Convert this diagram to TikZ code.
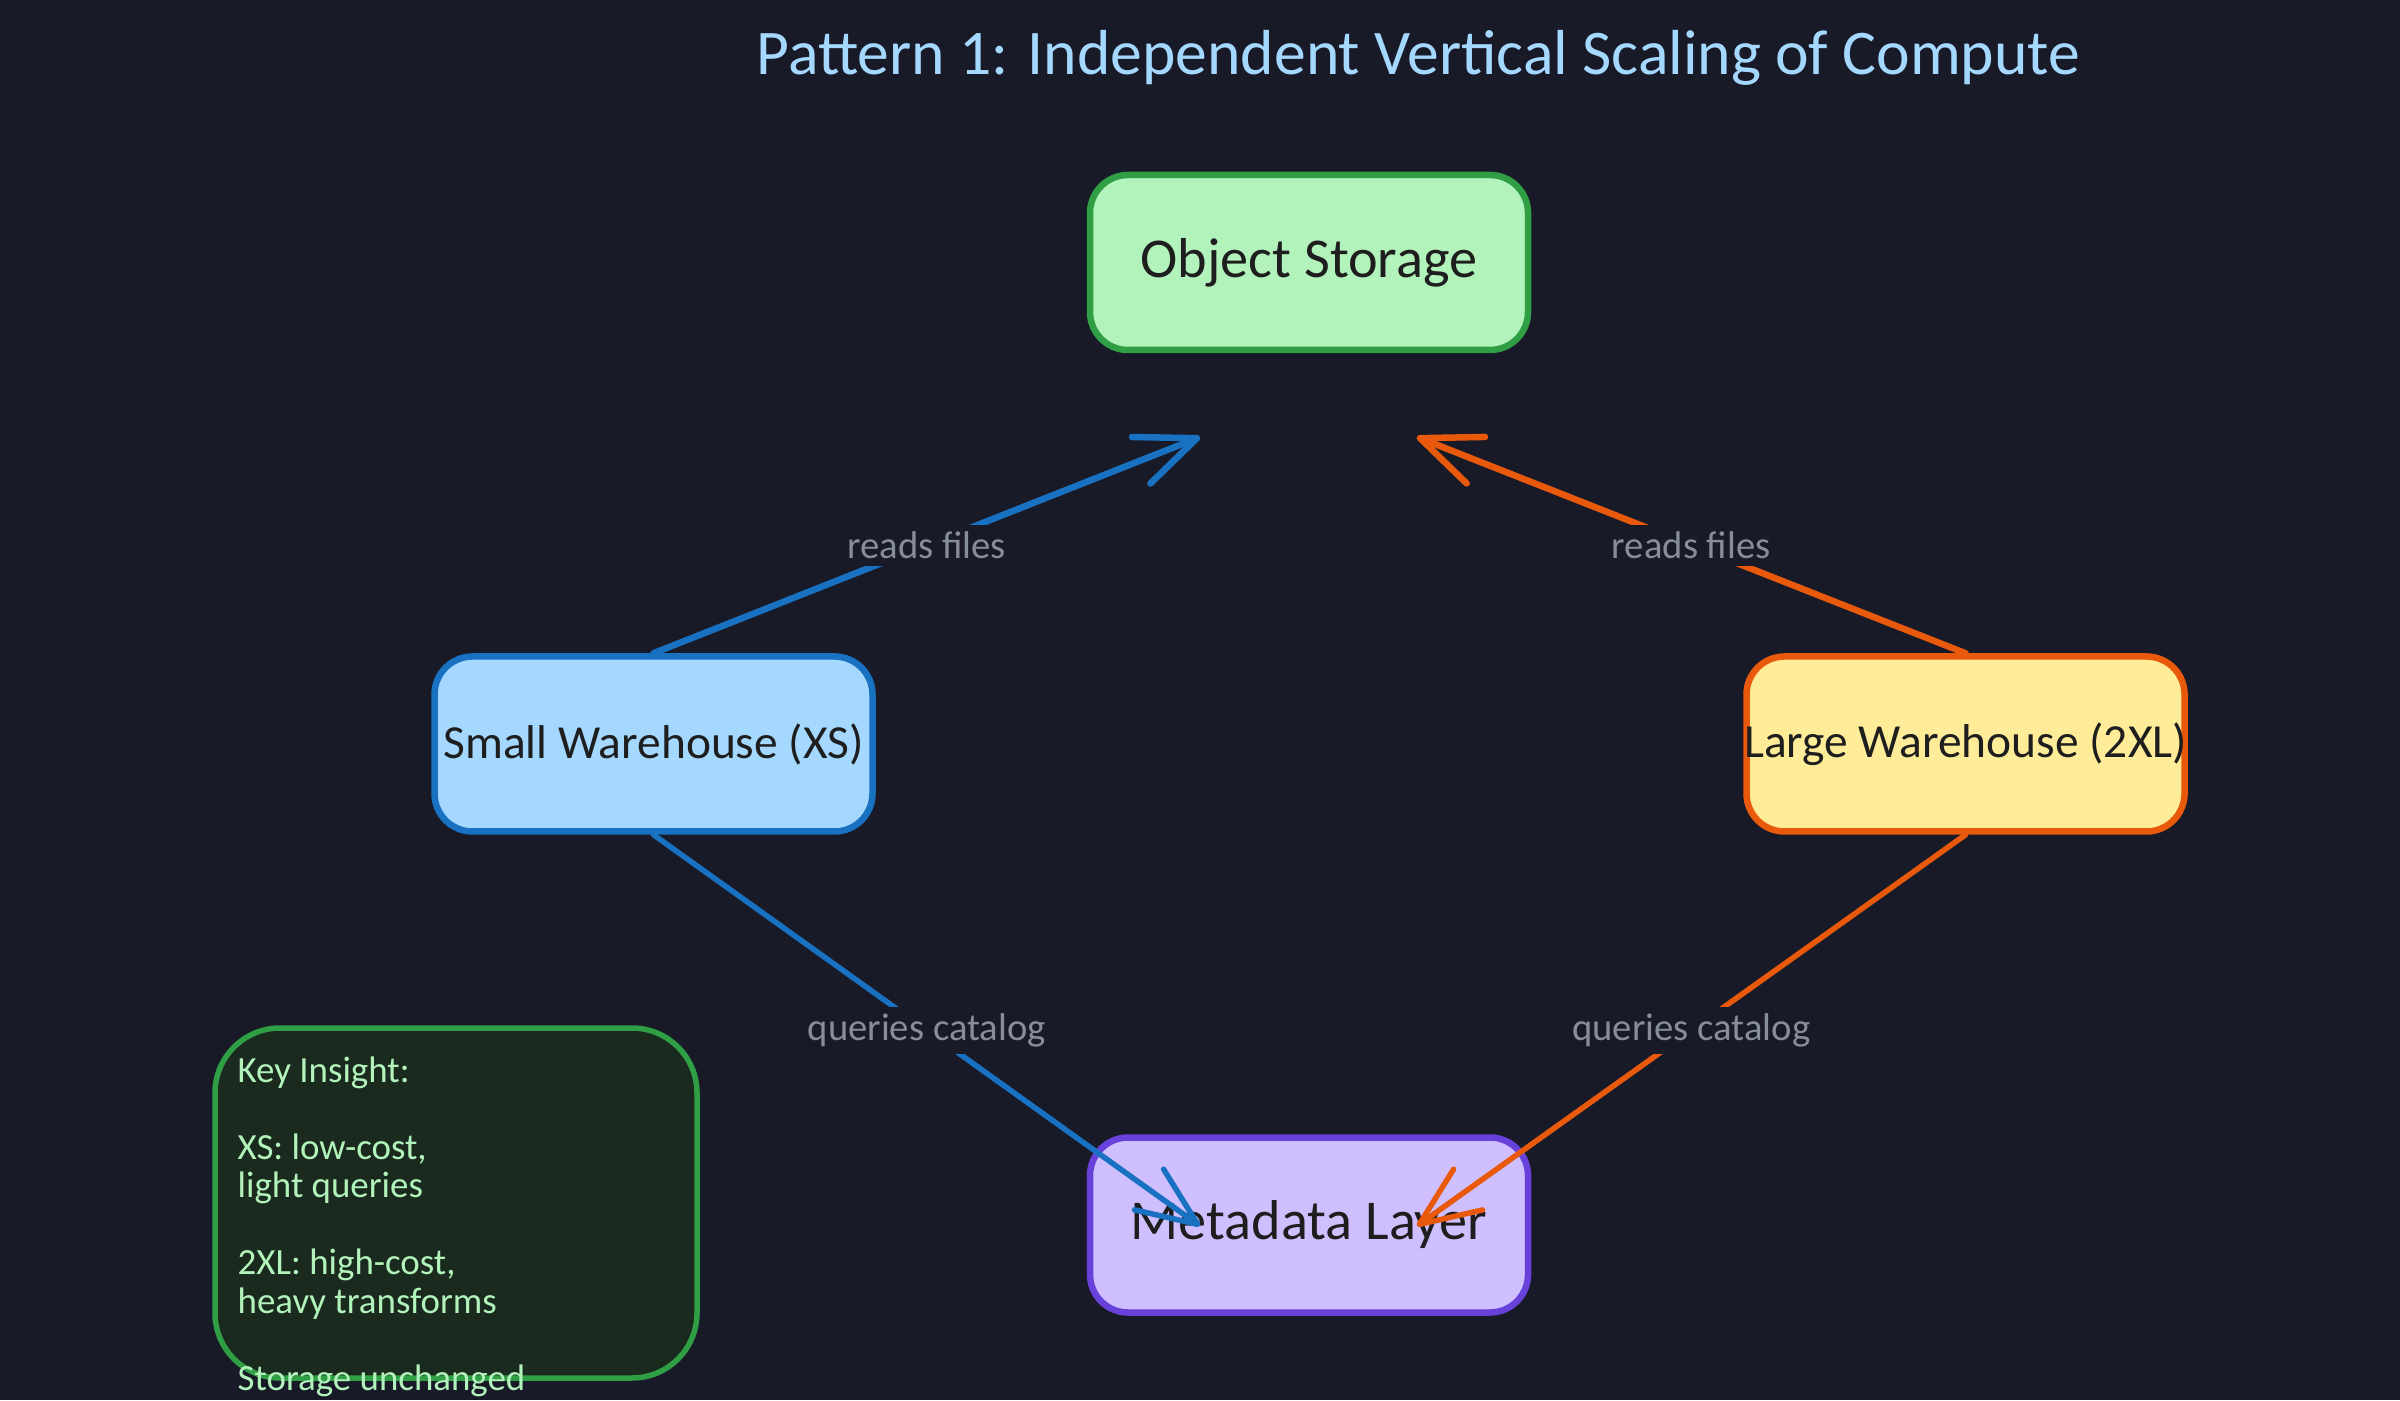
\documentclass[tikz,border=0pt]{standalone}
\usepackage{fontspec}
\setmainfont{Carlito}
\usetikzlibrary{positioning}
\usetikzlibrary{arrows.meta}
\definecolor{bgdark}{HTML}{181A28}
\definecolor{titleblue}{HTML}{A5D8FF}
\definecolor{inkdark}{HTML}{1E1E1E}
\definecolor{labelgray}{HTML}{868E96}
\definecolor{osfill}{HTML}{B2F2BB}
\definecolor{osline}{HTML}{2F9E44}
\definecolor{smallline}{HTML}{1971C2}
\definecolor{largefill}{HTML}{FFEC99}
\definecolor{largeline}{HTML}{E8590C}
\definecolor{mdfill}{HTML}{D0BFFF}
\definecolor{mdline}{HTML}{6741D9}
\definecolor{insightfill}{HTML}{1B2A1E}
\tikzset{
	whbox/.style={draw, rounded corners=0.38cm, line width=0.065cm, minimum width=4.38cm, minimum height=1.75cm, inner sep=0pt, text=inkdark, font=\fontsize{16}{18}\selectfont},
	whsmall/.style={whbox, font=\fontsize{13.5}{16}\selectfont},
	flow/.style={line width=0.055cm, line cap=round, -{Straight Barb[length=6mm,width=5mm,round]}},
	flowup/.style={flow, line width=0.065cm},
	flowlabel/.style={fill=bgdark, text=labelgray, inner sep=2pt, font=\fontsize{11}{13}\selectfont},
}
\begin{document}
\begin{tikzpicture}
		\useasboundingbox (0,0) rectangle (24,14);
		\fill[bgdark] (0,0) rectangle (24,14);
		\node[text=titleblue, font=\fontsize{18.1}{22}\selectfont] (title) at (14.185,13.42) {Pattern 1: Independent Vertical Scaling of Compute};
		\node[whbox, fill=osfill, draw=osline] (OS) at (13.09,11.375) {\raisebox{-1pt}{Object Storage}};
		\node[whsmall, fill=titleblue, draw=smallline] (SW) at (6.535,6.56) {\makebox[0pt]{Small Warehouse (XS)}};
		\node[whsmall, fill=largefill, draw=largeline] (LW) at (19.655,6.56) {\makebox[0pt]{Large Warehouse (2XL)}};
		\node[whbox, fill=mdfill, draw=mdline] (MD) at (13.09,1.75) {\raisebox{-1pt}{Metadata Layer}};
		\node[draw=osline, fill=insightfill, line width=0.055cm, rounded corners=0.65cm, minimum width=4.82cm, minimum height=3.5cm] (KI) at (4.56,1.97) {};
		\node[anchor=north west, align=left, inner sep=0pt, text=osfill, font=\fontsize{10.5}{10.95}\selectfont] (KItext) at (2.37,3.44) {Key Insight:\\[0pt]\mbox{}\\XS: low-cost,\\light queries\\\mbox{}\\2XL: high-cost,\\heavy transforms\\\mbox{}\\Storage unchanged};
		% free ends of the arrows
		\coordinate (OSin1) at (12,9.63);
		\coordinate (OSin2) at (14.17,9.63);
		\coordinate (MDin1) at (12,1.74);
		\coordinate (MDin2) at (14.17,1.74);
		\draw[flowup, draw=smallline] (SW.north) -- (OSin1) node[midway, flowlabel]{reads files};
		\draw[flowup, draw=largeline] (LW.north) -- (OSin2) node[midway, flowlabel]{reads files};
		\draw[flow, draw=smallline] (SW.south) -- (MDin1) node[midway, flowlabel]{queries catalog};
		\draw[flow, draw=largeline] (LW.south) -- (MDin2) node[midway, flowlabel]{queries catalog};
	\end{tikzpicture}
\end{document}
